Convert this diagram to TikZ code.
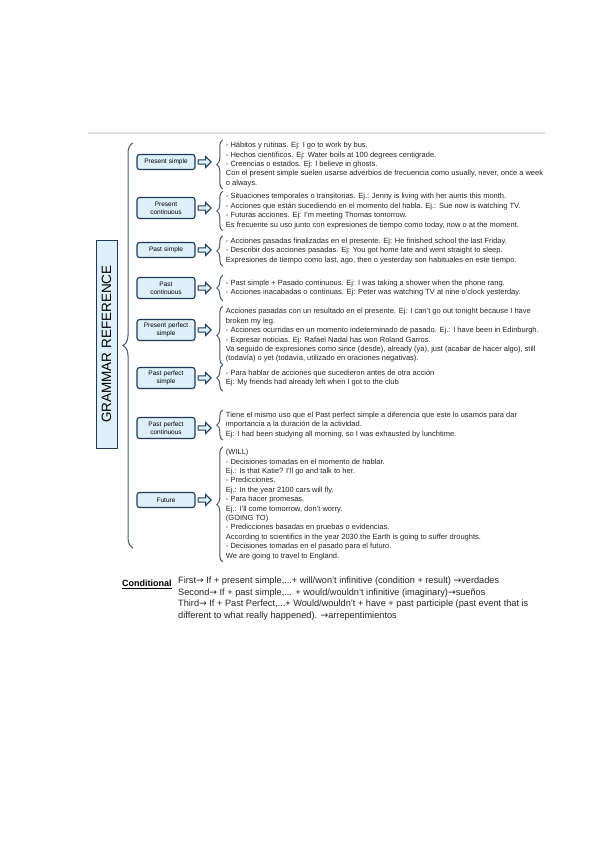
\documentclass[tikz,border=0pt]{standalone}
\usepackage{fontspec}
\setmainfont{Liberation Sans}
\newfontfamily\arrowfont{DejaVu Sans}
\usetikzlibrary{shapes.arrows, decorations.pathreplacing, positioning}
\definecolor{BoxFill}{RGB}{221,239,249}
\definecolor{BoxLine}{RGB}{31,58,86}
\definecolor{NoteText}{RGB}{35,35,35}
\newcommand{\condarrow}{{\arrowfont\char"2192}}
\tikzset{
    rootbox/.style={
        rectangle, draw=BoxLine, fill=BoxFill, line width=1pt, rotate=90,
        minimum width=208pt, minimum height=21pt,
        font=\fontsize{13.5}{13.5}\selectfont
    },
    catbox/.style={
        rectangle, rounded corners=2.5pt, draw=BoxLine, fill=BoxFill, line width=1.1pt,
        text width=55pt, align=center, minimum height=15pt, inner xsep=1.5pt, inner ysep=1pt,
        font=\fontsize{6.5}{7.6}\selectfont
    },
    fatarrow/.style={
        single arrow, draw=BoxLine, fill=BoxFill, line width=1pt,
        minimum height=13pt, minimum width=11pt, single arrow head extend=2.5pt, inner sep=1pt
    },
    notes/.style={
        align=left, inner xsep=0pt, inner ysep=2pt, text=NoteText,
        font=\fontsize{7.5}{9.4}\selectfont
    },
    bracket/.style={
        decorate, decoration={brace, amplitude=6pt}, draw=BoxLine!85, line width=1pt
    }
}
\begin{document}
\begin{tikzpicture}[x=1pt, y=-1pt]
    \useasboundingbox (0,0) rectangle (599,848);
    \draw[black!12, line width=1.2pt] (88,133) -- (545,133);

    % ROOT
    \node[rootbox] (root) at (106.5,344) {GRAMMAR REFERENCE};
    \coordinate (topend) at (133,143);
    \coordinate (botend) at (133,548);
    \draw[bracket, decoration={brace, amplitude=10pt}] (botend) -- (topend);

    % PRESENT SIMPLE
    \node[catbox] (ps) at (166,162) {Present simple};
    \node[fatarrow, right=2pt of ps] (ps-a) {};
    \node[notes, right=14pt of ps-a, yshift=-2.5pt] (ps-t) {
        - Hábitos y rutinas. Ej: I go to work by bus.\\
        - Hechos científicos. Ej: Water boils at 100 degrees centigrade.\\
        - Creencias o estados. Ej: I believe in ghosts.\\
        Con el present simple suelen usarse adverbios de frecuencia como usually, never, once a week\\
        o always.
    };
    \draw[bracket] ([xshift=-3pt]ps-t.south west) -- ([xshift=-3pt]ps-t.north west);

    % PRESENT CONTINUOUS
    \node[catbox, minimum height=21pt] (pc) at (166,208) {Present\\continuous};
    \node[fatarrow, right=2pt of pc] (pc-a) {};
    \node[notes, right=14pt of pc-a, yshift=-3pt] (pc-t) {
        - Situaciones temporales o transitorias. Ej.: Jenny is living with her aunts this month.\\
        - Acciones que están sucediendo en el momento del habla. Ej.: Sue now is watching TV.\\
        - Futuras acciones. Ej: I'm meeting Thomas tomorrow.\\
        Es frecuente su uso junto con expresiones de tiempo como today, now o at the moment.
    };
    \draw[bracket] ([xshift=-3pt]pc-t.south west) -- ([xshift=-3pt]pc-t.north west);

    % PAST SIMPLE
    \node[catbox] (pa) at (166,250) {Past simple};
    \node[fatarrow, right=2pt of pa] (pa-a) {};
    \node[notes, right=14pt of pa-a, yshift=-1pt] (pa-t) {
        - Acciones pasadas finalizadas en el presente. Ej: He finished school the last Friday.\\
        - Describir dos acciones pasadas. Ej: You got home late and went straight to sleep.\\
        Expresiones de tiempo como last, ago, then o yesterday son habituales en este tiempo.
    };
    \draw[bracket] ([xshift=-3pt]pa-t.south west) -- ([xshift=-3pt]pa-t.north west);

    % PAST CONTINUOUS
    \node[catbox, minimum height=21pt] (pco) at (166,288) {Past\\continuous};
    \node[fatarrow, right=2pt of pco] (pco-a) {};
    \node[notes, right=14pt of pco-a, minimum height=25pt] (pco-t) {
        - Past simple + Pasado continuous. Ej: I was taking a shower when the phone rang.\\
        - Acciones inacabadas o continuas. Ej: Peter was watching TV at nine o'clock yesterday.
    };
    \draw[bracket] ([xshift=-3pt]pco-t.south west) -- ([xshift=-3pt]pco-t.north west);

    % PRESENT PERFECT SIMPLE
    \node[catbox, minimum height=21pt] (pps) at (166,330) {Present perfect\\simple};
    \node[fatarrow, right=2pt of pps] (pps-a) {};
    \node[notes, right=14pt of pps-a, yshift=-5.5pt] (pps-t) {
        Acciones pasadas con un resultado en el presente. Ej: I can't go out tonight because I have\\
        broken my leg.\\
        - Acciones ocurridas en un momento indeterminado de pasado. Ej.: I have been in Edinburgh.\\
        - Expresar noticias. Ej: Rafael Nadal has won Roland Garros.\\
        Va seguido de expresiones como since (desde), already (ya), just (acabar de hacer algo), still\\
        (todavía) o yet (todavía, utilizado en oraciones negativas).
    };
    \draw[bracket] ([xshift=-3pt]pps-t.south west) -- ([xshift=-3pt]pps-t.north west);

    % PAST PERFECT SIMPLE
    \node[catbox, minimum height=21pt] (ppa) at (166,378) {Past perfect\\simple};
    \node[fatarrow, right=2pt of ppa] (ppa-a) {};
    \node[notes, right=14pt of ppa-a, minimum height=26pt] (ppa-t) {
        - Para hablar de acciones que sucedieron antes de otra acción\\
        Ej: My friends had already left when I got to the club
    };
    \draw[bracket] ([xshift=-3pt]ppa-t.south west) -- ([xshift=-3pt]ppa-t.north west);

    % PAST PERFECT CONTINUOUS
    \node[catbox, minimum height=21pt] (ppc) at (166,428) {Past perfect\\continuous};
    \node[fatarrow, right=2pt of ppc] (ppc-a) {};
    \node[notes, right=14pt of ppc-a, yshift=3pt] (ppc-t) {
        Tiene el mismo uso que el Past perfect simple a diferencia que este lo usamos para dar\\
        importancia a la duración de la actividad.\\
        Ej: I had been studying all morning, so I was exhausted by lunchtime.
    };
    \draw[bracket] ([xshift=-3pt]ppc-t.south west) -- ([xshift=-3pt]ppc-t.north west);

    % FUTURE
    \node[catbox] (fu) at (166,500) {Future};
    \node[fatarrow, right=2pt of fu] (fu-a) {};
    \node[notes, right=14pt of fu-a, yshift=-4.5pt] (fu-t) {
        (WILL)\\
        - Decisiones tomadas en el momento de hablar.\\
        Ej.: Is that Katie? I'll go and talk to her.\\
        - Predicciones.\\
        Ej.: In the year 2100 cars will fly.\\
        - Para hacer promesas.\\
        Ej.: I'll come tomorrow, don't worry.\\
        (GOING TO)\\
        - Predicciones basadas en pruebas o evidencias.\\
        According to scientifics in the year 2030 the Earth is going to suffer droughts.\\
        - Decisiones tomadas en el pasado para el futuro.\\
        We are going to travel to England.
    };
    \draw[bracket] ([xshift=-3pt]fu-t.south west) -- ([xshift=-3pt]fu-t.north west);

    % CONDITIONAL
    \node[anchor=west, inner sep=0pt, font=\fontsize{9}{11.5}\selectfont\bfseries] (cond) at (122,584) {\underline{Conditional}};
    \node[anchor=north west, align=left, inner sep=0pt, text=NoteText,
          font=\fontsize{9.2}{11.5}\selectfont] (cond-t) at (178,577) {
        First\condarrow{} If + present simple,...+ will/won't infinitive (condition + result) \condarrow verdades\\
        Second\condarrow{} If + past simple,... + would/wouldn't infinitive (imaginary)\condarrow sueños\\
        Third\condarrow{} If + Past Perfect,...+ Would/wouldn't + have + past participle (past event that is\\
        different to what really happened). \condarrow arrepentimientos
    };
\end{tikzpicture}
\end{document}
